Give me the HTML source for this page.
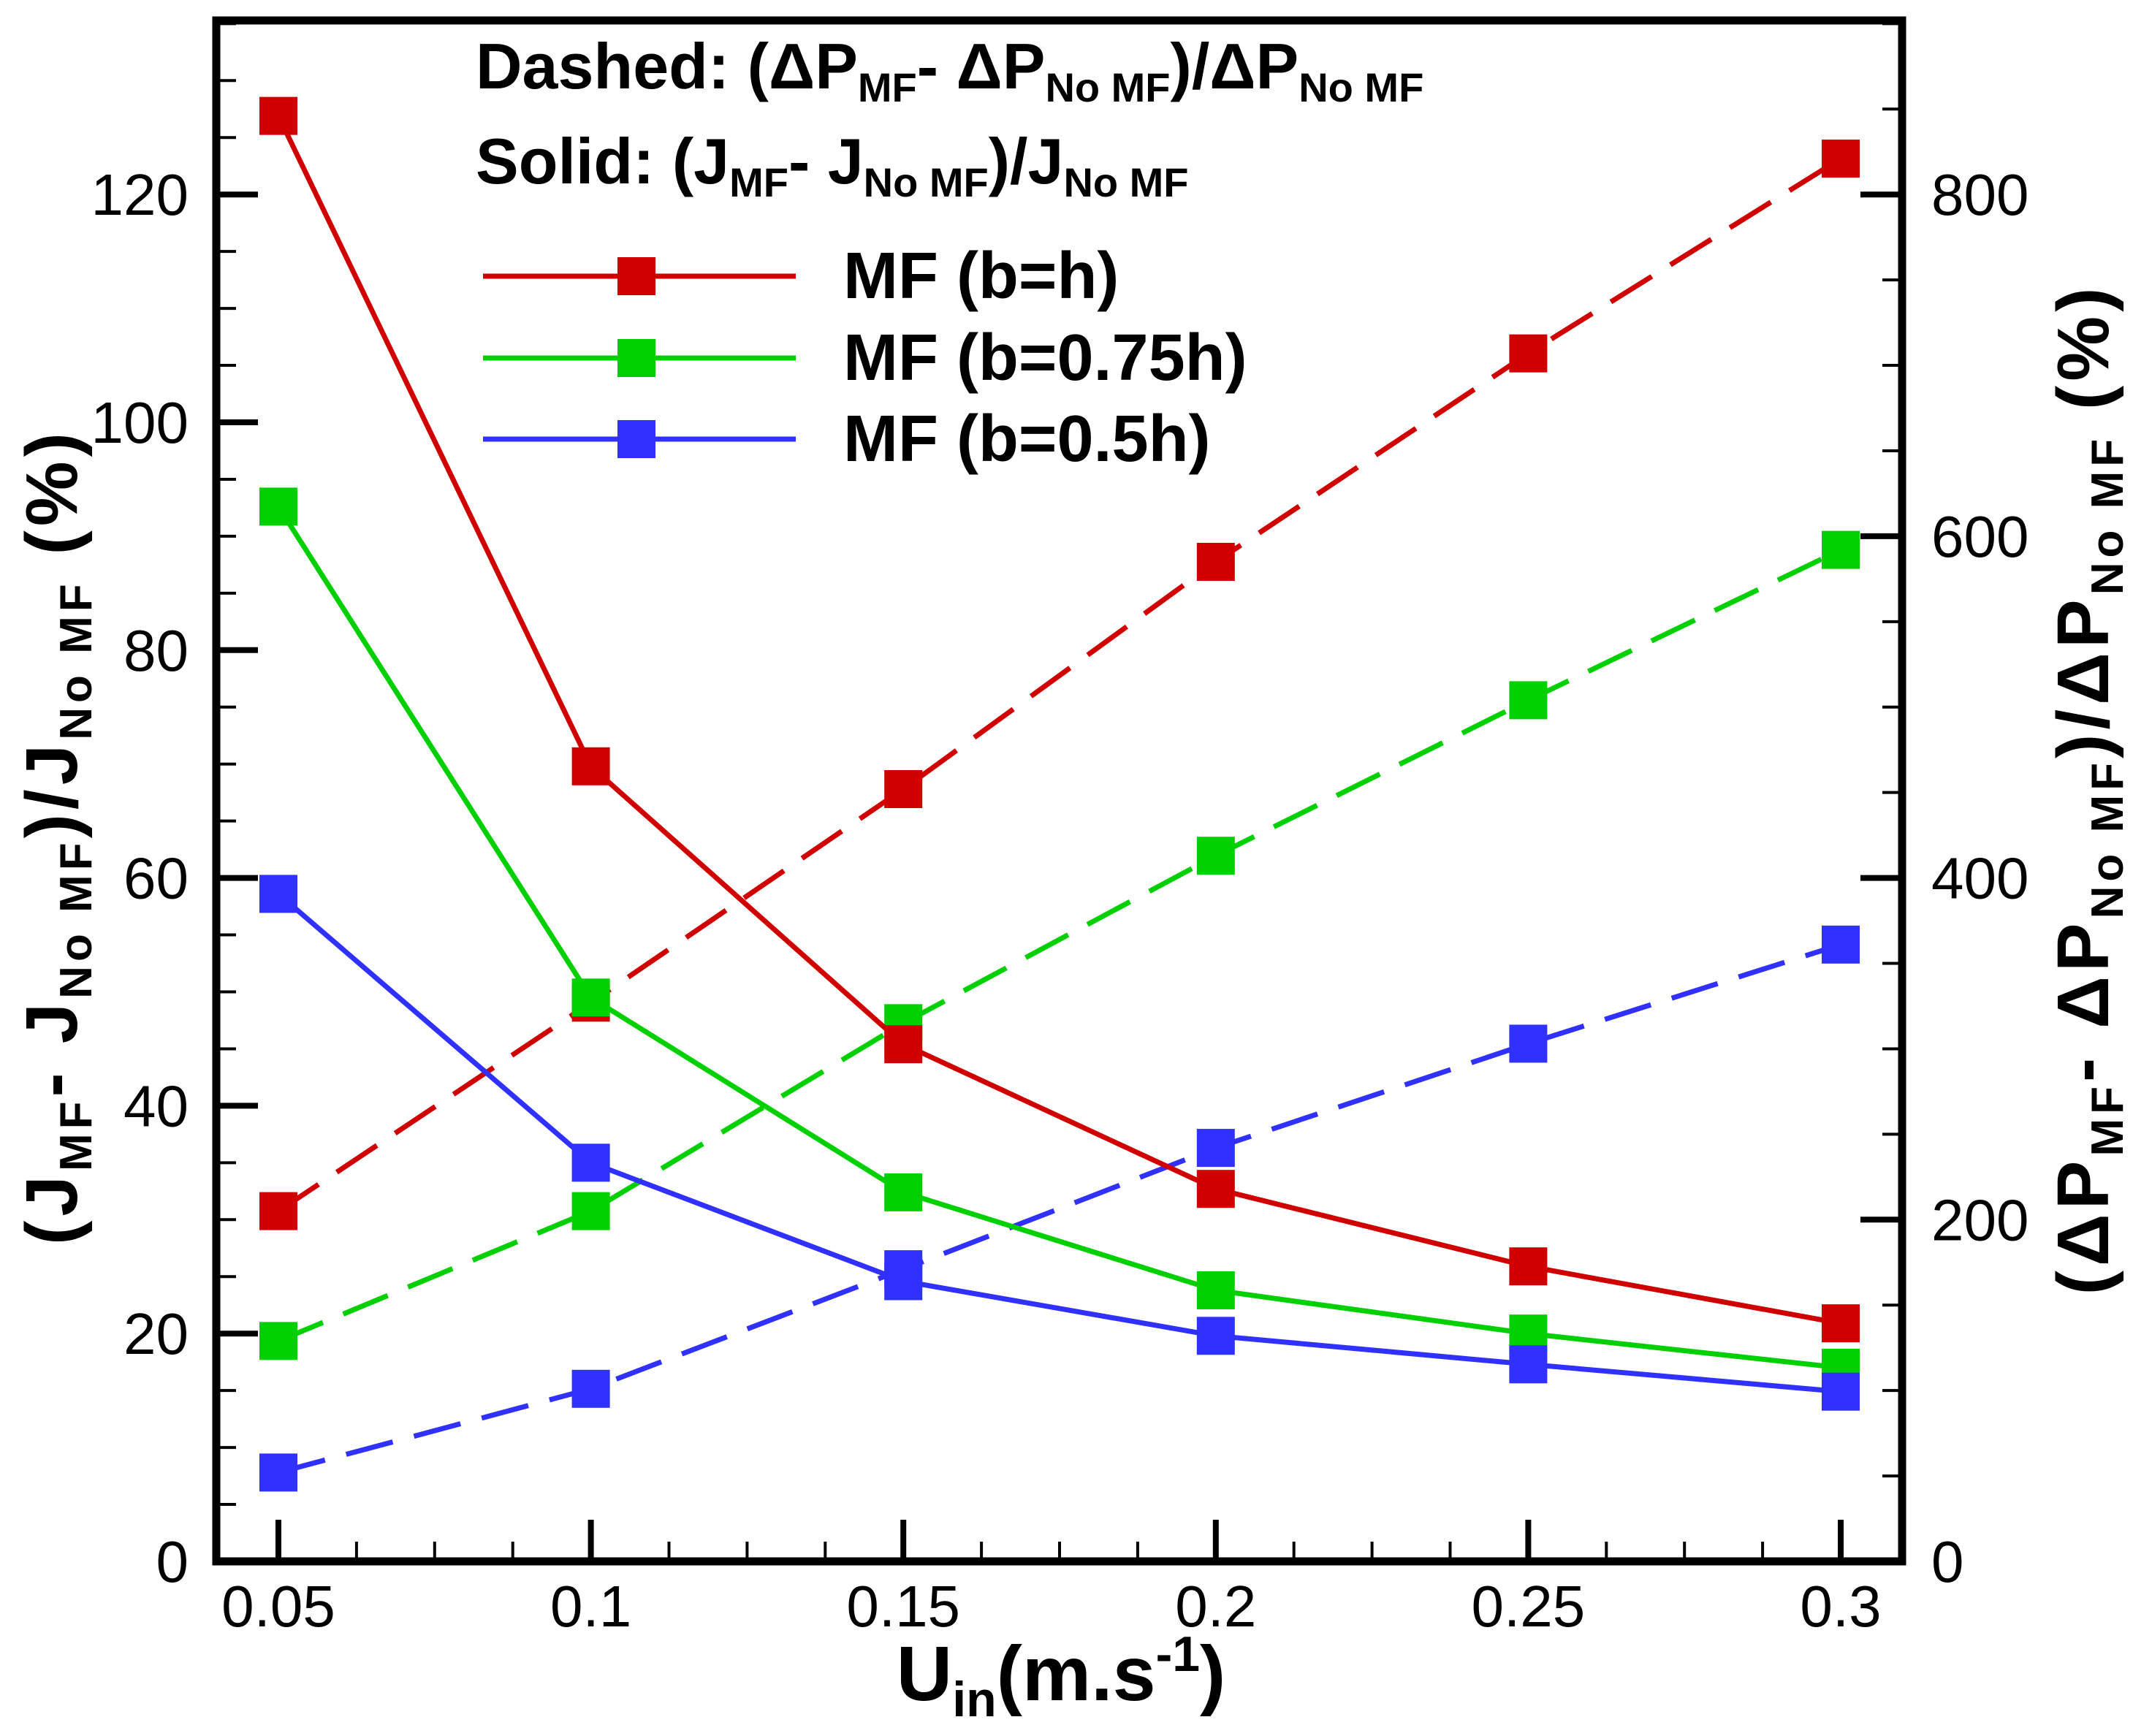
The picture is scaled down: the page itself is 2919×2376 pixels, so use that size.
<!DOCTYPE html>
<html><head><meta charset="utf-8"><style>
html,body{margin:0;padding:0;background:#fff;}
svg{display:block;font-family:"Liberation Sans",Arial,sans-serif;}
</style></head><body>
<svg id="chart" width="2919" height="2376" viewBox="0 0 2919 2376" xmlns="http://www.w3.org/2000/svg">
<g id="marks"></g>
<g id="axes"></g>
<g font-weight="bold" fill="#000">
  <text x="651" y="121" font-size="88">Dashed: (ΔP<tspan font-size="56" dy="18">MF</tspan><tspan dy="-18">- ΔP</tspan><tspan font-size="56" dy="18">No MF</tspan><tspan dy="-18">)/ΔP</tspan><tspan font-size="56" dy="18">No MF</tspan></text>
  <text x="651" y="251" font-size="88">Solid: (J<tspan font-size="56" dy="18">MF</tspan><tspan dy="-18">- J</tspan><tspan font-size="56" dy="18">No MF</tspan><tspan dy="-18">)/J</tspan><tspan font-size="56" dy="18">No MF</tspan></text>
  <g><line x1="661" y1="378" x2="1089" y2="378" stroke="#d00000" stroke-width="7"/><rect x="845" y="352" width="52" height="52" fill="#d00000"/><text x="1154" y="408" font-size="90">MF (b=h)</text></g>
  <g><line x1="661" y1="490" x2="1089" y2="490" stroke="#00d000" stroke-width="7"/><rect x="845" y="464" width="52" height="52" fill="#00d000"/><text x="1154" y="520" font-size="90">MF (b=0.75h)</text></g>
  <g><line x1="661" y1="601" x2="1089" y2="601" stroke="#3030ff" stroke-width="7"/><rect x="845" y="575" width="52" height="52" fill="#3030ff"/><text x="1154" y="631" font-size="90">MF (b=0.5h)</text></g>
</g>
<text x="1452" y="2327" font-size="106" font-weight="bold" text-anchor="middle">U<tspan font-size="68" dy="22">in</tspan><tspan dy="-22">(m.s</tspan><tspan font-size="68" dy="-40">-1</tspan><tspan dy="40">)</tspan></text>
<text transform="translate(105,1145) rotate(-90)" font-size="100" font-weight="bold" letter-spacing="6" text-anchor="middle">(J<tspan font-size="62" dy="20">MF</tspan><tspan dy="-20">- J</tspan><tspan font-size="62" dy="20">No MF</tspan><tspan dy="-20">)/J</tspan><tspan font-size="62" dy="20">No MF</tspan><tspan dy="-20"> (%)</tspan></text>
<text transform="translate(2885,1080) rotate(-90)" font-size="100" font-weight="bold" letter-spacing="6" text-anchor="middle">(ΔP<tspan font-size="62" dy="20">MF</tspan><tspan dy="-20">- ΔP</tspan><tspan font-size="62" dy="20">No MF</tspan><tspan dy="-20">)/ΔP</tspan><tspan font-size="62" dy="20">No MF</tspan><tspan dy="-20"> (%)</tspan></text>
</svg>
<script>
const xCats = [0.05, 0.1, 0.15, 0.2, 0.25, 0.3];
const xTickLabels = ["0.05", "0.1", "0.15", "0.2", "0.25", "0.3"];
const leftTicks = [0, 20, 40, 60, 80, 100, 120];
const rightTicks = [0, 200, 400, 600, 800];
const solidBH = [126.9, 69.8, 45.4, 32.7, 25.9, 20.9];
const solidB075H = [92.6, 49.5, 32.4, 23.8, 20.0, 17.0];
const solidB05H = [58.6, 35.0, 24.6, 19.8, 17.3, 14.9];
const dashedBH = [205, 327, 452, 585, 707, 821];
const dashedB075H = [129, 205, 315, 413, 504, 592];
const dashedB05H = [52, 101, 171, 242, 303, 361];

const NS = "http://www.w3.org/2000/svg";
const L = 296, R = 2603, T = 28, B = 2137;
const xs = v => 381 + (v - 0.05) / 0.05 * 427.6;
const yl = v => B - v * 15.59;
const yr = v => B - v * 15.59 * 120 / 800;
function mk(tag, attrs, parent) { const e = document.createElementNS(NS, tag); for (const k in attrs) e.setAttribute(k, attrs[k]); parent.appendChild(e); return e; }
const marks = document.getElementById('marks');
const axes = document.getElementById('axes');

function series(vals, yf, color, dashed, name) {
  const g = mk('g', {}, marks);
  
  
  const pts = vals.map((v, i) => xs(xCats[i]) + ',' + yf(v)).join(' ');
  const pl = mk('polyline', { points: pts, fill: 'none', stroke: color, 'stroke-width': 7 }, g);
  if (dashed) pl.setAttribute('stroke-dasharray', '66 30');
  
  
  vals.forEach((v, i) => {
    const r = mk('rect', { x: xs(xCats[i]) - 26, y: yf(v) - 26, width: 52, height: 52, fill: color }, g);
    
    
  });
}
series(dashedBH, yr, '#d00000', true, 'dashed-bh');
series(dashedB075H, yr, '#00d000', true, 'dashed-b075h');
series(dashedB05H, yr, '#3030ff', true, 'dashed-b05h');
series(solidBH, yl, '#d00000', false, 'solid-bh');
series(solidB075H, yl, '#00d000', false, 'solid-b075h');
series(solidB05H, yl, '#3030ff', false, 'solid-b05h');

const fr = mk('rect', { x: L, y: T, width: R - L, height: B - T, fill: 'none', stroke: '#000', 'stroke-width': 11 }, axes);


for (let v = 0.0375; v <= 0.3126; v += 0.0125) {
  const major = Math.abs(v / 0.05 - Math.round(v / 0.05)) < 1e-6;
  const x = xs(v);
  if (x < L || x > R) continue;
  mk('line', { x1: x, y1: B, x2: x, y2: B - (major ? 57 : 27), stroke: '#000', 'stroke-width': major ? 8 : 4 }, axes);
}
xCats.forEach((v, i) => {
  const t = mk('text', { x: xs(v), y: 2226, 'font-size': 80, 'text-anchor': 'middle' }, axes);
  t.textContent = xTickLabels[i];
  
  
});
for (let v = 0; v <= 135; v += 5) {
  const major = v % 20 === 0;
  const y = yl(v);
  mk('line', { x1: L, y1: y, x2: L + (major ? 57 : 27), y2: y, stroke: '#000', 'stroke-width': major ? 8 : 4 }, axes);
}
leftTicks.forEach(v => {
  const t = mk('text', { x: 258, y: yl(v) + 28, 'font-size': 80, 'text-anchor': 'end' }, axes);
  t.textContent = String(v);
  
  
});
for (let v = 0; v <= 900; v += 50) {
  const major = v % 200 === 0;
  const y = yr(v);
  mk('line', { x1: R, y1: y, x2: R - (major ? 57 : 27), y2: y, stroke: '#000', 'stroke-width': major ? 8 : 4 }, axes);
}
rightTicks.forEach(v => {
  const t = mk('text', { x: 2643, y: yr(v) + 28, 'font-size': 80, 'text-anchor': 'start' }, axes);
  t.textContent = String(v);
  
  
});
</script>
</body></html>
